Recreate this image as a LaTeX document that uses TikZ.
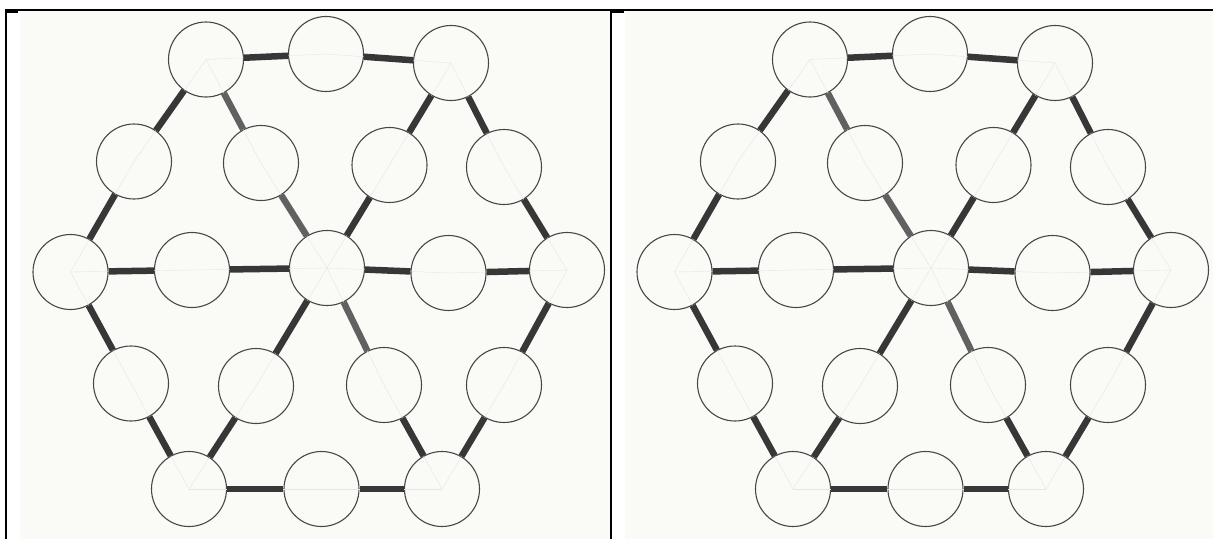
\documentclass[tikz,border=0pt]{standalone}
\usetikzlibrary{positioning}
\definecolor{paper}{RGB}{250,250,247}
\definecolor{ink}{RGB}{55,55,55}

\begin{document}
\begin{tikzpicture}[x=1pt,y=-1pt,
  disc/.style={circle,draw=black!72,line width=1.1pt,minimum size=75pt,inner sep=0pt},
  link/.style={draw=ink,line width=6.5pt},
  linkpale/.style={link,draw=black!62},
  guide/.style={draw=black!10,line width=0.4pt}]
  \useasboundingbox (0,0) rectangle (1213,539);
  % the two sheets
  \fill[paper] (20,11) rectangle (610,539);
  \fill[paper] (625,11) rectangle (1213,539);
  % frame
  \draw[line width=1.3pt] (5,10) -- (1213,10);
  \draw[line width=1.4pt] (6,10) -- (6,539);
  \draw[line width=1.4pt] (611,10) -- (611,539);
  \draw[line width=3pt] (5,11) -- (18,11);
  \draw[line width=3pt] (611,11) -- (624,11);
  \foreach \dx/\p in {0/L,604/R}{
  \begin{scope}[xshift=\dx pt,name prefix=\p-]
    \foreach \n/\x/\y in {a1/206/59.5,a2/326/54,a3/451/63,
        b1/134/161.5,b2/261/163,b3/389.5/165,b4/504/167,
        c1/70.5/272,c2/192/270,c3/327/268,c4/448.5/273,c5/567/270,
        d1/131/383.5,d2/256/386,d3/384/385,d4/504/385,
        e1/189/489,e2/321.5/489,e3/442/489}
      \node[disc] (\n) at (\x,\y) {};
    % pencil guides
    \foreach \s/\t in {a1/a2,a2/a3,a1/b1,b1/c1,c1/d1,d1/e1,e1/e2,e2/e3,
        e3/d4,d4/c5,c5/b4,b4/a3,c1/c2,c2/c3,c3/c4,c4/c5,
        a1/b2,b2/c3,c3/d3,d3/e3,a3/b3,b3/c3,c3/d2,d2/e1}
      \draw[guide] (\s.center) -- (\t.center);
    % bars
    \foreach \s/\t in {a1/a2,a2/a3,a1/b1,b1/c1,c1/d1,d1/e1,e1/e2,e2/e3,
        e3/d4,d4/c5,c5/b4,b4/a3,c1/c2,c2/c3,c3/c4,c4/c5,
        d3/e3,a3/b3,b3/c3,c3/d2,d2/e1}
      \draw[link] (\s) -- (\t);
    \foreach \s/\t in {a1/b2,b2/c3,c3/d3}
      \draw[linkpale] (\s) -- (\t);
  \end{scope}}
\end{tikzpicture}
\end{document}
